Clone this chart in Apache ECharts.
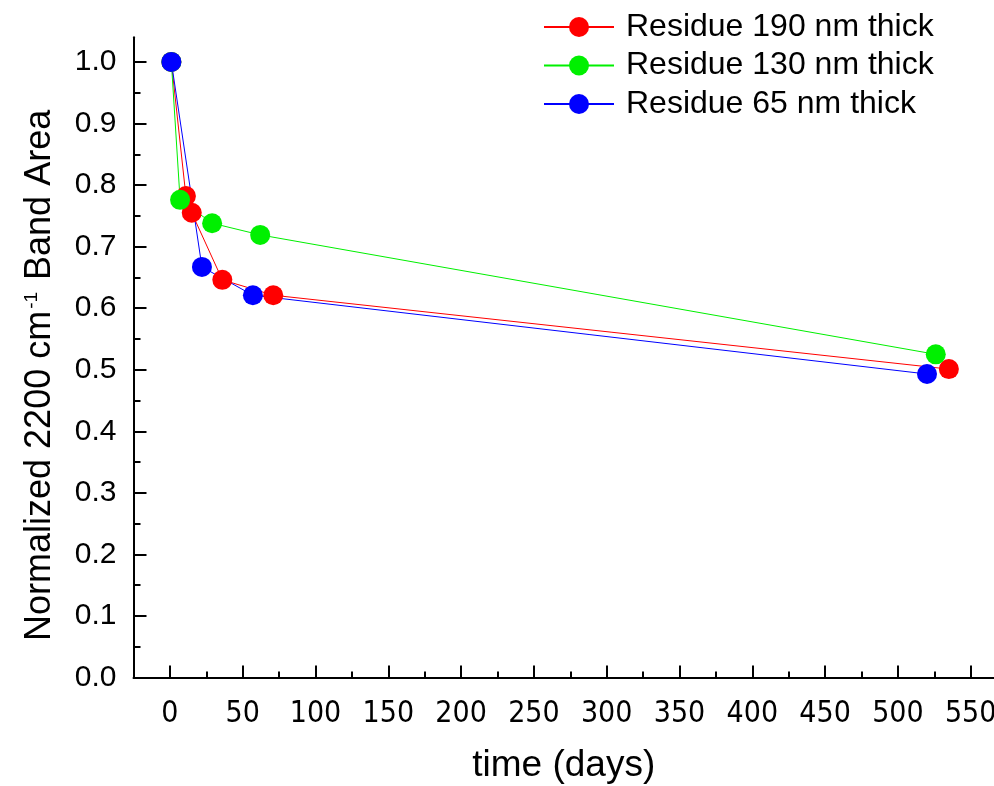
<!DOCTYPE html>
<html>
<head>
<meta charset="utf-8">
<script src="https://cdn.jsdelivr.net/npm/echarts@6/dist/echarts.min.js"></script>
<style>
  html, body { margin: 0; padding: 0; background: #fff; }
  #main { width: 994px; height: 786px; }
</style>
</head>
<body>
<div id="main"></div>
<script>
// residue band area vs. time
var redDays = [1, 11, 15, 36, 71, 535];
var redValues = [1.0, 0.782, 0.755, 0.646, 0.621, 0.501];
var greenDays = [1, 7, 29, 62, 526];
var greenValues = [1.0, 0.776, 0.738, 0.719, 0.525];
var blueDays = [1, 22, 57, 520];
var blueValues = [1.0, 0.667, 0.621, 0.493];

var seriesNames = ['Residue 190 nm thick', 'Residue 130 nm thick', 'Residue 65 nm thick'];

// tick labels
var xTicks = [0, 50, 100, 150, 200, 250, 300, 350, 400, 450, 500, 550];
var xMinorTicks = [25, 75, 125, 175, 225, 275, 325, 375, 425, 475, 525];
var yTicks = [0, 0.1, 0.2, 0.3, 0.4, 0.5, 0.6, 0.7, 0.8, 0.9, 1.0];
var yMinorTicks = [0.05, 0.15, 0.25, 0.35, 0.45, 0.55, 0.65, 0.75, 0.85, 0.95];

function pairs(xs, ys) {
    var out = [];
    for (var i = 0; i < xs.length; i++) {
        out.push([xs[i], ys[i]]);
    }
    return out;
}

var FONT = "'Liberation Sans', Arial, sans-serif";
var NARROW = "'Liberation Sans Narrow', 'Arial Narrow', 'DejaVu Sans Condensed', sans-serif";

var chart = echarts.init(document.getElementById('main'), null, {renderer: 'canvas'});

function lineSeries(name, color, data) {
    return {
        name: name,
        type: 'line',
        data: data,
        symbol: 'circle',
        symbolSize: 20,
        itemStyle: {color: color},
        lineStyle: {color: color, width: 1},
        animation: false
    };
}

var option = {
    backgroundColor: '#fff',
    animation: false,
    // keep the plot box fixed, labels may run off the edge like in the original
    grid: {left: 133.5, right: 0, top: 37.3, bottom: 108.5, outerBoundsMode: 'none', containLabel: false},
    legend: {
        orient: 'vertical',
        left: 538,
        top: 6,
        itemWidth: 70,
        itemHeight: 25,
        itemGap: 6.5,
        data: seriesNames,
        textStyle: {fontFamily: FONT, fontSize: 32, color: '#000', padding: [0, 0, 0, 7]}
    },
    xAxis: [
        {
            type: 'value',
            min: -25,
            max: 566,
            position: 'bottom',
            name: 'time (days)',
            nameLocation: 'middle',
            nameGap: 70,
            nameTextStyle: {fontFamily: FONT, fontSize: 37, color: '#000'},
            splitLine: {show: false},
            axisLine: {onZero: false, lineStyle: {color: '#000', width: 2}},
            // negative length turns the ticks into the plot
            axisTick: {length: -12, customValues: xTicks, lineStyle: {color: '#000', width: 2}},
            axisLabel: {customValues: xTicks, margin: 22, fontFamily: NARROW, fontSize: 30, color: '#000'}
        },
        {
            type: 'value',
            min: -25,
            max: 566,
            position: 'bottom',
            splitLine: {show: false},
            axisLine: {show: false, onZero: false},
            axisTick: {length: -6, customValues: xMinorTicks, lineStyle: {color: '#000', width: 2}},
            axisLabel: {show: false}
        }
    ],
    yAxis: [
        {
            type: 'value',
            min: 0,
            max: 1.04,
            position: 'left',
            name: 'Normalized 2200 cm{sup|-1} Band Area',
            nameLocation: 'middle',
            nameRotate: 90,
            nameGap: 75,
            nameTextStyle: {
                fontFamily: FONT, fontSize: 36, color: '#000',
                padding: [0, 36, 0, 0],
                rich: {sup: {fontFamily: FONT, fontSize: 19, color: '#000', verticalAlign: 'top', padding: [0, 2, 14, 2]}}
            },
            splitLine: {show: false},
            axisLine: {onZero: false, lineStyle: {color: '#000', width: 2}},
            axisTick: {length: -13, customValues: yTicks, lineStyle: {color: '#000', width: 2}},
            axisLabel: {
                customValues: yTicks, margin: 17, fontFamily: FONT, fontSize: 30, color: '#000',
                formatter: function (v) { return v.toFixed(1); }
            }
        },
        {
            type: 'value',
            min: 0,
            max: 1.04,
            position: 'left',
            splitLine: {show: false},
            axisLine: {show: false, onZero: false},
            axisTick: {length: -7, customValues: yMinorTicks, lineStyle: {color: '#000', width: 2}},
            axisLabel: {show: false}
        }
    ],
    series: [
        lineSeries(seriesNames[0], '#ff0000', pairs(redDays, redValues)),
        lineSeries(seriesNames[1], '#00f000', pairs(greenDays, greenValues)),
        lineSeries(seriesNames[2], '#0000ff', pairs(blueDays, blueValues))
    ]
};

chart.setOption(option);
window.addEventListener('resize', function () {
    chart.resize();
});
</script>
</body>
</html>
